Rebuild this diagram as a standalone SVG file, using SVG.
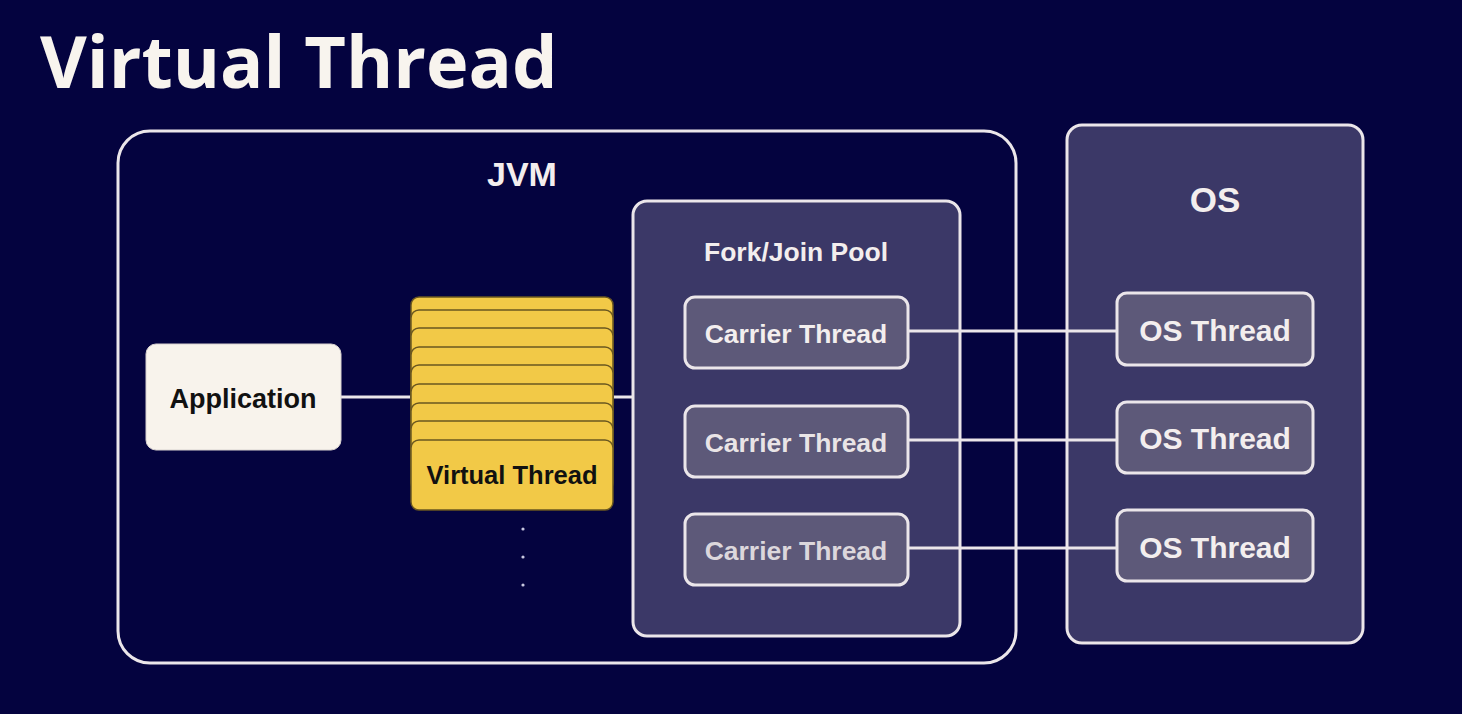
<svg xmlns="http://www.w3.org/2000/svg" width="1462" height="714" viewBox="0 0 1462 714">
<style>
.bg{fill:#04033f}
.frame{fill:none;stroke:#ebe6ea;stroke-width:3}
.panel{fill:#3b3867;stroke:#ebe6ea;stroke-width:3}
.thr{fill:#5d5979;stroke:#ebe6ea;stroke-width:3}
.card{fill:#f2c947;stroke:#6a5720;stroke-width:1.5}
.app{fill:#f8f3ec;stroke:#d8d2d0;stroke-width:1}
.conn{stroke:#ebe6ea;stroke-width:3;fill:none}
.t{font-family:"Liberation Sans",Arial,sans-serif;font-weight:bold;text-anchor:middle}
.w{fill:#f3eeee}
.k{fill:#111}
</style>
<rect class="bg" x="0" y="0" width="1462" height="714"/>
<text x="40" y="88" font-family="'Open Sans',sans-serif" font-weight="bold" font-size="72" fill="#f8f4ee">Virtual Thread</text>

<g id="jvm">
<rect class="frame" x="118" y="131" width="898" height="532" rx="32"/>
<text class="t w" x="522" y="186" font-size="34">JVM</text>
</g>

<g id="os">
<rect class="panel" x="1067" y="125" width="296" height="518" rx="15"/>
<text class="t w" x="1215" y="212" font-size="35">OS</text>
</g>

<g id="forkjoin">
<rect class="panel" x="633" y="201" width="327" height="435" rx="14"/>
<text class="t w" x="796" y="261" font-size="26.5">Fork/Join Pool</text>
</g>

<g id="connectors">
<line class="conn" x1="341" y1="397" x2="411" y2="397"/>
<line class="conn" x1="613" y1="397" x2="633" y2="397"/>
<line class="conn" x1="908" y1="331" x2="1117" y2="331"/>
<line class="conn" x1="908" y1="440" x2="1117" y2="440"/>
<line class="conn" x1="908" y1="548" x2="1117" y2="548"/>
</g>

<g id="application">
<rect class="app" x="146" y="344" width="195" height="106" rx="10"/>
<text class="t k" x="243" y="408" font-size="27">Application</text>
</g>

<g id="virtual-threads">
<rect class="card" x="411" y="297" width="202" height="70" rx="8"/>
<rect class="card" x="411" y="310" width="202" height="70" rx="8"/>
<rect class="card" x="411" y="328" width="202" height="70" rx="8"/>
<rect class="card" x="411" y="347" width="202" height="70" rx="8"/>
<rect class="card" x="411" y="365" width="202" height="70" rx="8"/>
<rect class="card" x="411" y="384" width="202" height="70" rx="8"/>
<rect class="card" x="411" y="403" width="202" height="70" rx="8"/>
<rect class="card" x="411" y="421" width="202" height="70" rx="8"/>
<rect class="card" x="411" y="440" width="202" height="70" rx="8"/>
<text class="t k" x="512" y="484" font-size="25.5">Virtual Thread</text>
<circle cx="523" cy="529" r="1.6" fill="#c8c8e0"/>
<circle cx="523" cy="557" r="1.6" fill="#c8c8e0"/>
<circle cx="523" cy="585" r="1.6" fill="#c8c8e0"/>
</g>

<g id="carrier1">
<rect class="thr" x="685" y="297" width="223" height="71" rx="10"/>
<text class="t w" x="796" y="343" font-size="26.5">Carrier Thread</text>
</g>
<g id="carrier2">
<rect class="thr" x="685" y="406" width="223" height="71" rx="10"/>
<text class="t w" x="796" y="452" font-size="26.5" fill-opacity="0.95">Carrier Thread</text>
</g>
<g id="carrier3">
<rect class="thr" x="685" y="514" width="223" height="71" rx="10"/>
<text class="t" x="796" y="560" font-size="26.5" fill="#dcd7dc">Carrier Thread</text>
</g>

<g id="osthread1">
<rect class="thr" x="1117" y="293" width="196" height="72" rx="10"/>
<text class="t w" x="1215" y="341" font-size="30">OS Thread</text>
</g>
<g id="osthread2">
<rect class="thr" x="1117" y="402" width="196" height="71" rx="10"/>
<text class="t w" x="1215" y="449" font-size="30">OS Thread</text>
</g>
<g id="osthread3">
<rect class="thr" x="1117" y="510" width="196" height="71" rx="10"/>
<text class="t w" x="1215" y="558" font-size="30">OS Thread</text>
</g>
</svg>
